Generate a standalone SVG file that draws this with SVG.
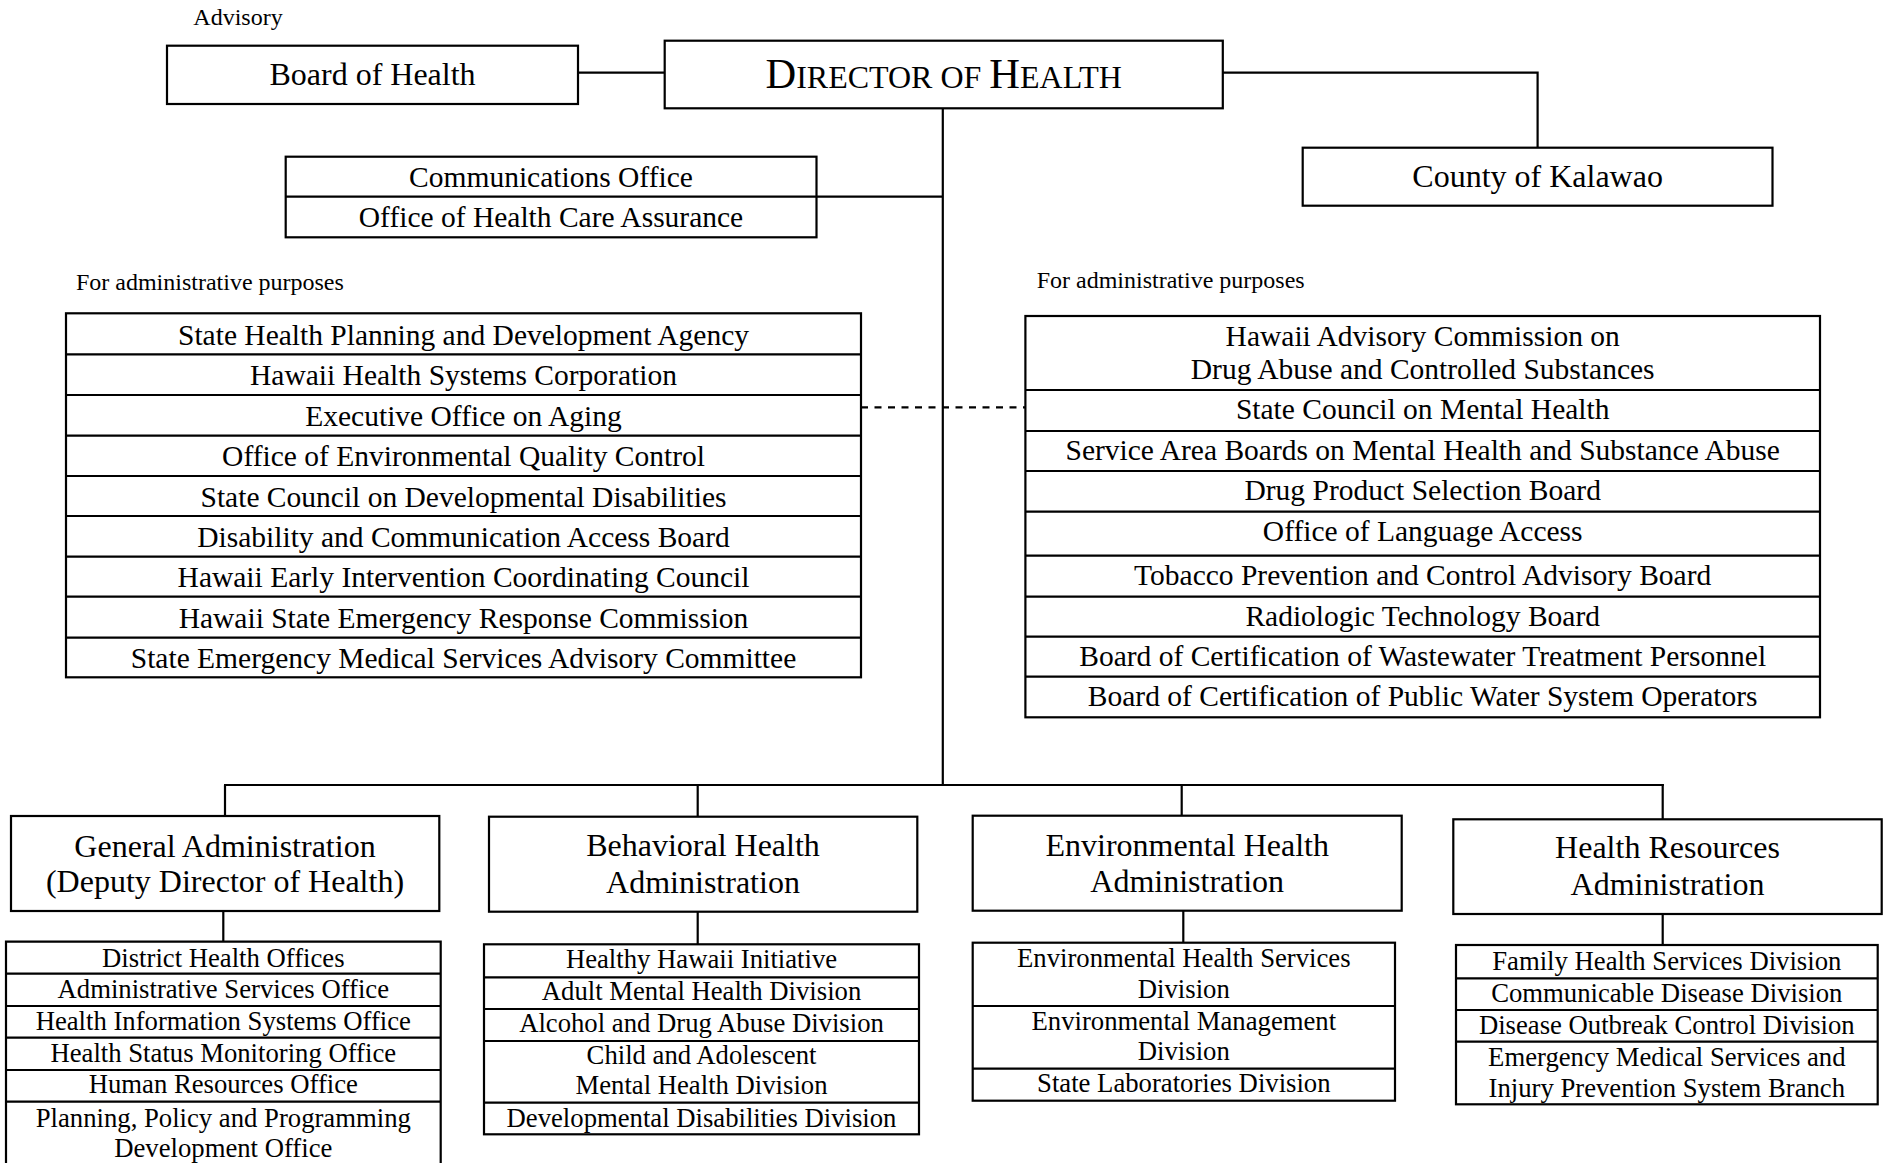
<svg xmlns="http://www.w3.org/2000/svg" width="1885" height="1163" viewBox="0 0 1885 1163">
<style>
  .box{fill:#fff;stroke:#000;stroke-width:2.2}
  .ln{stroke:#000;stroke-width:2.2;fill:none}
  .dash{stroke:#000;stroke-width:2.2;fill:none;stroke-dasharray:7 6.5}
  text{font-family:"Liberation Serif","Times New Roman",serif;fill:#000;text-anchor:middle}
  .t32{font-size:32px}
  .t29{font-size:29.5px}
  .t28{font-size:29.5px}
  .t26{font-size:26.7px}
  .lab{font-size:24px;text-anchor:start}
</style>
<rect width="1885" height="1163" fill="#fff"/>

<g id="connectors">
  <line class="ln" x1="578" y1="72.7" x2="665" y2="72.7"/>
  <polyline class="ln" points="1223,72.7 1537.6,72.7 1537.6,147.7"/>
  <line class="ln" x1="942.8" y1="108.3" x2="942.8" y2="785"/>
  <line class="ln" x1="816.5" y1="196.7" x2="942.8" y2="196.7"/>
  <line class="dash" x1="861" y1="407.3" x2="1025.4" y2="407.3"/>
  <line class="ln" x1="224" y1="785" x2="1663.8" y2="785"/>
  <line class="ln" x1="225" y1="785" x2="225" y2="816"/>
  <line class="ln" x1="697.7" y1="785" x2="697.7" y2="816.7"/>
  <line class="ln" x1="1181.7" y1="785" x2="1181.7" y2="815.7"/>
  <line class="ln" x1="1662.7" y1="784" x2="1662.7" y2="819.3"/>
  <line class="ln" x1="223.3" y1="911" x2="223.3" y2="941.7"/>
  <line class="ln" x1="697.7" y1="911.7" x2="697.7" y2="944.3"/>
  <line class="ln" x1="1183.3" y1="910.7" x2="1183.3" y2="942.7"/>
  <line class="ln" x1="1662.7" y1="914" x2="1662.7" y2="945"/>
</g>

<text class="lab" x="193.3" y="25">Advisory</text>
<text class="lab" x="75.9" y="290">For administrative purposes</text>
<text class="lab" x="1036.7" y="288.3">For administrative purposes</text>

<g id="board-of-health">
  <rect class="box" x="167" y="45.7" width="411" height="58.3"/>
  <text class="t32" x="372.5" y="85">Board of Health</text>
</g>

<g id="director">
  <rect class="box" x="664.7" y="40.7" width="558.1" height="67.6"/>
  <text x="943.7" y="88.3" style="font-size:42.5px">D<tspan style="font-size:32px">IRECTOR OF </tspan>H<tspan style="font-size:32px">EALTH</tspan></text>
</g>

<g id="county-of-kalawao">
  <rect class="box" x="1302.7" y="147.7" width="469.8" height="58"/>
  <text class="t32" x="1537.6" y="186.7">County of Kalawao</text>
</g>

<g id="communications">
  <rect class="box" x="285.7" y="156.7" width="530.8" height="80.6"/>
  <line class="ln" x1="285.7" y1="196.7" x2="816.5" y2="196.7"/>
  <text class="t28" x="551" y="186.7">Communications Office</text>
  <text class="t28" x="551" y="226.7">Office of Health Care Assurance</text>
</g>

<g id="admin-left">
  <rect class="box" x="66" y="313.3" width="795" height="364"/>
  <path class="ln" d="M66 354.3H861M66 395H861M66 435.7H861M66 476H861M66 516H861M66 556.7H861M66 596.7H861M66 637.7H861"/>
  <text class="t29" x="463.5" y="344.5">State Health Planning and Development Agency</text>
  <text class="t29" x="463.5" y="385">Hawaii Health Systems Corporation</text>
  <text class="t29" x="463.5" y="425.5">Executive Office on Aging</text>
  <text class="t29" x="463.5" y="466">Office of Environmental Quality Control</text>
  <text class="t29" x="463.5" y="506.5">State Council on Developmental Disabilities</text>
  <text class="t29" x="463.5" y="547">Disability and Communication Access Board</text>
  <text class="t29" x="463.5" y="587">Hawaii Early Intervention Coordinating Council</text>
  <text class="t29" x="463.5" y="627.5">Hawaii State Emergency Response Commission</text>
  <text class="t29" x="463.5" y="668">State Emergency Medical Services Advisory Committee</text>
</g>

<g id="admin-right">
  <rect class="box" x="1025.4" y="316" width="794.6" height="401.3"/>
  <path class="ln" d="M1025.4 390H1820M1025.4 431H1820M1025.4 471H1820M1025.4 511.7H1820M1025.4 555.7H1820M1025.4 596.7H1820M1025.4 636.7H1820M1025.4 676.7H1820"/>
  <text class="t29" x="1422.7" y="345.5">Hawaii Advisory Commission on</text>
  <text class="t29" x="1422.7" y="378.8">Drug Abuse and Controlled Substances</text>
  <text class="t29" x="1422.7" y="418.8">State Council on Mental Health</text>
  <text class="t29" x="1422.7" y="460">Service Area Boards on Mental Health and Substance Abuse</text>
  <text class="t29" x="1422.7" y="500.3">Drug Product Selection Board</text>
  <text class="t29" x="1422.7" y="541">Office of Language Access</text>
  <text class="t29" x="1422.7" y="585">Tobacco Prevention and Control Advisory Board</text>
  <text class="t29" x="1422.7" y="626">Radiologic Technology Board</text>
  <text class="t29" x="1422.7" y="666">Board of Certification of Wastewater Treatment Personnel</text>
  <text class="t29" x="1422.7" y="706.3">Board of Certification of Public Water System Operators</text>
</g>

<g id="general-administration">
  <rect class="box" x="11" y="816" width="428.3" height="95"/>
  <text class="t32" x="225" y="856.7">General Administration</text>
  <text class="t32" x="225" y="891.7">(Deputy Director of Health)</text>
</g>
<g id="general-administration-offices">
  <path class="box" d="M6 1170V941.7H440.7V1170"/>
  <path class="ln" d="M6 973.7H440.7M6 1006H440.7M6 1037.7H440.7M6 1070H440.7M6 1101.7H440.7"/>
  <text class="t26" x="223.3" y="966.7">District Health Offices</text>
  <text class="t26" x="223.3" y="998.3">Administrative Services Office</text>
  <text class="t26" x="223.3" y="1030">Health Information Systems Office</text>
  <text class="t26" x="223.3" y="1061.7">Health Status Monitoring Office</text>
  <text class="t26" x="223.3" y="1093.3">Human Resources Office</text>
  <text class="t26" x="223.3" y="1126.7">Planning, Policy and Programming</text>
  <text class="t26" x="223.3" y="1156.7">Development Office</text>
</g>

<g id="behavioral-health">
  <rect class="box" x="489" y="816.7" width="428.3" height="95"/>
  <text class="t32" x="703" y="856">Behavioral Health</text>
  <text class="t32" x="703" y="892.7">Administration</text>
</g>
<g id="behavioral-health-divisions">
  <rect class="box" x="484" y="944.3" width="435" height="190"/>
  <path class="ln" d="M484 977.3H919M484 1009H919M484 1041H919M484 1102.7H919"/>
  <text class="t26" x="701.5" y="968.3">Healthy Hawaii Initiative</text>
  <text class="t26" x="701.5" y="1000">Adult Mental Health Division</text>
  <text class="t26" x="701.5" y="1031.7">Alcohol and Drug Abuse Division</text>
  <text class="t26" x="701.5" y="1064">Child and Adolescent</text>
  <text class="t26" x="701.5" y="1094.3">Mental Health Division</text>
  <text class="t26" x="701.5" y="1126.7">Developmental Disabilities Division</text>
</g>

<g id="environmental-health">
  <rect class="box" x="972.7" y="815.7" width="429" height="95"/>
  <text class="t32" x="1187.2" y="855.7">Environmental Health</text>
  <text class="t32" x="1187.2" y="891.7">Administration</text>
</g>
<g id="environmental-health-divisions">
  <rect class="box" x="972.7" y="942.7" width="422.3" height="158"/>
  <path class="ln" d="M972.7 1006H1395M972.7 1068.7H1395"/>
  <text class="t26" x="1183.8" y="967.3">Environmental Health Services</text>
  <text class="t26" x="1183.8" y="998.3">Division</text>
  <text class="t26" x="1183.8" y="1030">Environmental Management</text>
  <text class="t26" x="1183.8" y="1060">Division</text>
  <text class="t26" x="1183.8" y="1091.7">State Laboratories Division</text>
</g>

<g id="health-resources">
  <rect class="box" x="1453.3" y="819.3" width="428.4" height="94.7"/>
  <text class="t32" x="1667.5" y="858.3">Health Resources</text>
  <text class="t32" x="1667.5" y="895">Administration</text>
</g>
<g id="health-resources-divisions">
  <rect class="box" x="1456" y="945" width="421.7" height="159.3"/>
  <path class="ln" d="M1456 978.3H1877.7M1456 1010H1877.7M1456 1041.7H1877.7"/>
  <text class="t26" x="1666.8" y="970">Family Health Services Division</text>
  <text class="t26" x="1666.8" y="1001.7">Communicable Disease Division</text>
  <text class="t26" x="1666.8" y="1034">Disease Outbreak Control Division</text>
  <text class="t26" x="1666.8" y="1066">Emergency Medical Services and</text>
  <text class="t26" x="1666.8" y="1096.7">Injury Prevention System Branch</text>
</g>
</svg>
